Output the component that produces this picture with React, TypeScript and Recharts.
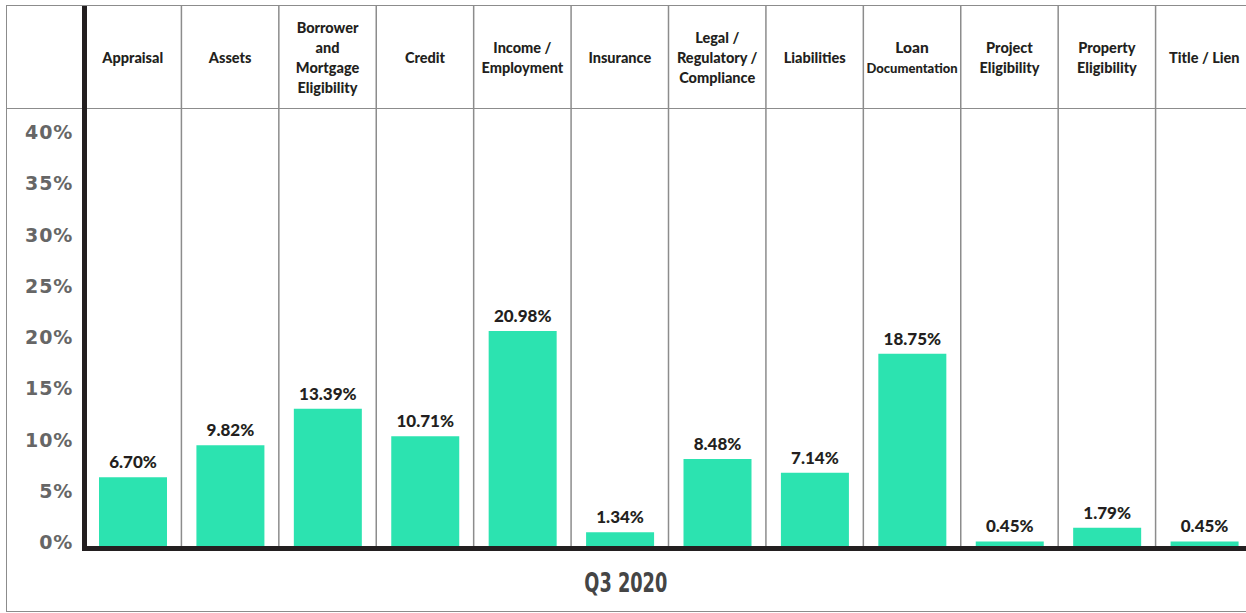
import React from "react";
import { BarChart, Bar, XAxis, YAxis, LabelList } from "recharts";

const CATEGORIES = [
  "Appraisal",
  "Assets",
  "Borrower and Mortgage Eligibility",
  "Credit",
  "Income / Employment",
  "Insurance",
  "Legal / Regulatory / Compliance",
  "Liabilities",
  "Loan Documentation",
  "Project Eligibility",
  "Property Eligibility",
  "Title / Lien",
];

const HEADER_LINES = [
  ["Appraisal"],
  ["Assets"],
  ["Borrower", "and", "Mortgage", "Eligibility"],
  ["Credit"],
  ["Income /", "Employment"],
  ["Insurance"],
  ["Legal /", "Regulatory /", "Compliance"],
  ["Liabilities"],
  ["Loan", "Documentation"],
  ["Project", "Eligibility"],
  ["Property", "Eligibility"],
  ["Title / Lien"],
];

const VALUES = [6.7, 9.82, 13.39, 10.71, 20.98, 1.34, 8.48, 7.14, 18.75, 0.45, 1.79, 0.45];

const Y_TICKS = [0, 5, 10, 15, 20, 25, 30, 35, 40];

const PERIOD = "Q3 2020";

const data = CATEGORIES.map((name, i) => ({ name, value: VALUES[i] }));

const W = 1246;
const H = 613;
const LEFT = 84;
const RIGHT = -7;
const COL = (W - LEFT - RIGHT) / CATEGORIES.length;

const GRID = "#8c8c8c";
const INK = "#231f20";
const HEAD_FONT = "Lato, 'Open Sans', sans-serif";

function HeaderTick(props: any) {
  const { x, payload, index } = props;
  const half = payload && payload.offset ? payload.offset : COL / 2;
  const left = x - half;
  const lines = HEADER_LINES[index] || [];
  const lh = 20.3;
  const y0 = 57.5 - ((lines.length - 1) / 2) * lh;
  const isLoan = lines[0] === "Loan";
  return (
    <g>
      {index === 0 ? (
        <line x1={left + 0.5} x2={left + 0.5} y1={6} y2={551} stroke={INK} strokeWidth={5} />
      ) : (
        <line x1={left} x2={left} y1={6} y2={546} stroke={GRID} strokeWidth={1.5} />
      )}
      <text
        x={x}
        textAnchor="middle"
        fontFamily={HEAD_FONT}
        fontWeight={900}
        fontSize={14.5}
        fill={INK}
      >
        {lines.map((l, i) => (
          <tspan
            key={i}
            x={x}
            y={y0 + i * lh}
            dominantBaseline="central"
            fontSize={isLoan ? (i === 0 ? 15.5 : 13) : 14.5}
          >
            {l}
          </tspan>
        ))}
      </text>
    </g>
  );
}

function YTick(props: any) {
  const { x, y, payload } = props;
  return (
    <text
      x={x}
      y={y - 4}
      textAnchor="end"
      dominantBaseline="central"
      fontFamily="'DejaVu Sans', sans-serif"
      fontWeight={700}
      fontSize={19}
      letterSpacing={0.8}
      fill="#666666"
    >
      {`${payload.value}%`}
    </text>
  );
}

export default function App() {
  return (
    <div
      style={{
        position: "absolute",
        left: 0,
        top: 0,
        width: W,
        height: H,
        background: "#fff",
        overflow: "hidden",
      }}
    >
      <div
        style={{
          position: "absolute",
          left: 6,
          top: 5,
          width: W + 20,
          height: 607,
          border: `1.5px solid ${GRID}`,
          boxSizing: "border-box",
        }}
      />
      <div
        style={{
          position: "absolute",
          left: 7,
          top: 107.5,
          width: W,
          height: 1.5,
          background: GRID,
        }}
      />
      <div style={{ position: "absolute", left: 0, top: 0 }}>
        <BarChart
          width={W}
          height={H}
          data={data}
          margin={{ top: 6, right: RIGHT, left: 0, bottom: 66 }}
        >
          <XAxis
            xAxisId="top"
            dataKey="name"
            orientation="top"
            height={130}
            axisLine={false}
            tickLine={false}
            interval={0}
            tick={<HeaderTick />}
          />
          <XAxis
            dataKey="name"
            height={1}
            tick={false}
            tickLine={false}
            axisLine={{ stroke: INK, strokeWidth: 5, transform: "translate(0, 2.5)" }}
          />
          <YAxis
            width={LEFT}
            domain={[0, 40]}
            ticks={Y_TICKS}
            axisLine={false}
            tickLine={false}
            tickMargin={5}
            interval={0}
            tick={<YTick />}
          />
          <Bar dataKey="value" fill="#2ce3b0" barSize={68} isAnimationActive={false}>
            <LabelList
              dataKey="value"
              position="top"
              offset={9}
              formatter={(v: any) => `${Number(v).toFixed(2)}%`}
              fill={INK}
              fontFamily={HEAD_FONT}
              fontWeight={900}
              fontSize={17}
            />
          </Bar>
        </BarChart>
      </div>
      <div
        style={{
          position: "absolute",
          left: 7,
          width: W - 8,
          top: 566,
          textAlign: "center",
        }}
      >
        <span
          style={{
            display: "inline-block",
            transform: "scaleX(0.73)",
            fontFamily: "'DejaVu Sans Condensed', 'DejaVu Sans', sans-serif",
            fontWeight: 700,
            fontSize: 27,
            lineHeight: "34px",
            color: "#454545",
          }}
        >
          {PERIOD}
        </span>
      </div>
    </div>
  );
}
